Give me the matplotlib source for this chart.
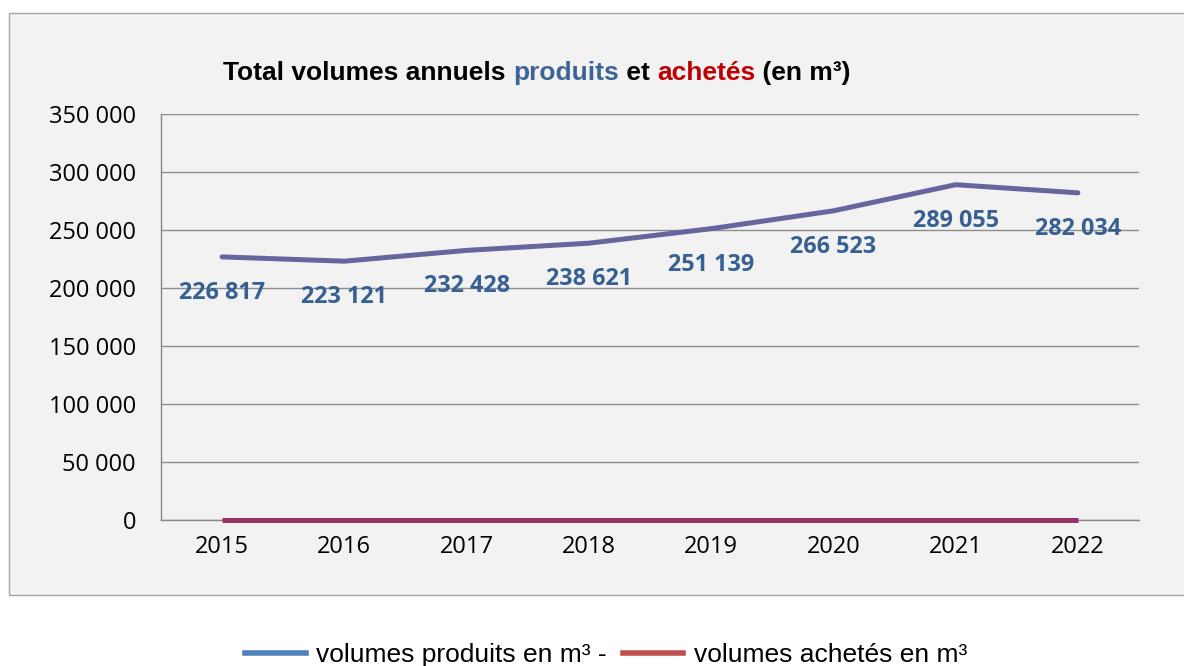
import matplotlib
matplotlib.use("Agg")
import matplotlib.pyplot as plt
from matplotlib.lines import Line2D
from matplotlib.patches import Rectangle
from matplotlib.transforms import offset_copy

years = ["2015", "2016", "2017", "2018", "2019", "2020", "2021", "2022"]
produits = [226817, 223121, 232428, 238621, 251139, 266523, 289055, 282034]
achetes = [0, 0, 0, 0, 0, 0, 0, 0]
yticks = [0, 50000, 100000, 150000, 200000, 250000, 300000, 350000]

BG = "#F2F2F2"
LABEL_FONT = ["Open Sans", "DejaVu Sans"]
TITLE_FONT = ["Liberation Sans", "DejaVu Sans"]


def fmt(v):
    return f"{v:,}".replace(",", " ")


fig = plt.figure(figsize=(11.84, 6.66), dpi=100)
fig.patch.set_facecolor("white")

# outer chart panel
fig.patches.append(Rectangle((9 / 1184, 1 - 595 / 666), 1.0, (595 - 13) / 666,
                             transform=fig.transFigure, facecolor=BG,
                             edgecolor="#A6A6A6", linewidth=1, zorder=-5))

ax = fig.add_axes([161 / 1184, 1 - 520 / 666, (1139 - 161) / 1184, (520 - 114) / 666])
ax.set_facecolor(BG)

x = list(range(len(years)))
ax.plot(x, produits, color="#67659E", linewidth=3.6, solid_capstyle="round", zorder=3)
ax.plot(x, achetes, color="#993366", linewidth=3.6, solid_capstyle="butt", zorder=3,
        clip_on=False)

for xi, v in zip(x, produits):
    ax.annotate(fmt(v), (xi, v), xytext=(0, -26), textcoords="offset points",
                ha="center", va="center", fontsize=16.8, fontweight="bold",
                color="#376092", family=LABEL_FONT, zorder=4)

ax.set_xlim(-0.5, len(years) - 0.5)
ax.set_ylim(0, 350000)
ax.set_xticks(x)
ax.set_xticklabels(years, fontsize=17, family=LABEL_FONT)
ax.set_yticks(yticks)
ax.set_yticklabels([fmt(v) for v in yticks], fontsize=17, family=LABEL_FONT)
ax.tick_params(length=0)
ax.tick_params(axis="x", pad=11)
ax.tick_params(axis="y", pad=18)
ax.grid(axis="y", color="#8C8C8C", linewidth=1)
ax.set_axisbelow(True)
for s in ["top", "right"]:
    ax.spines[s].set_visible(False)
for s in ["left", "bottom"]:
    ax.spines[s].set_color("#868686")
    ax.spines[s].set_linewidth(1)

# multi-coloured title
pieces = [("Total volumes annuels ", "black"), ("produits", "#3D6497"),
          (" et ", "black"), ("achetés", "#C00000"), (" (en m³)", "black")]
fig.canvas.draw()
renderer = fig.canvas.get_renderer()
tx, ty = 223 / 1184, 1 - 80 / 666
trans = fig.transFigure
for txt, col in pieces:
    t = fig.text(tx, ty, txt, color=col, fontsize=19, fontweight="bold",
                 family=TITLE_FONT, transform=trans, va="baseline")
    ext = t.get_window_extent(renderer=renderer)
    trans = offset_copy(t.get_transform(), fig=fig, x=ext.width, units="dots")
    tx, ty = t.get_position()

handles = [Line2D([], [], color="#4F81BD", linewidth=4),
           Line2D([], [], color="#C0504D", linewidth=4)]
fig.legend(handles, ["volumes produits en m³ -", "volumes achetés en m³"],
           loc="center", bbox_to_anchor=(606 / 1184, 1 - 655 / 666), ncol=2, frameon=False,
           prop={"family": TITLE_FONT, "size": 19}, handlelength=2.3,
           handletextpad=0.4, columnspacing=0.6)

fig.savefig("out.png", dpi=100, facecolor=fig.get_facecolor())
